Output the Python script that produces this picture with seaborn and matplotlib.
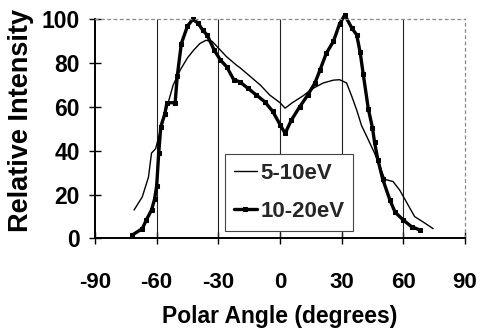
import matplotlib
matplotlib.use("Agg")
import matplotlib.pyplot as plt
import numpy as np
import pandas as pd
import seaborn as sns

# ---- data ----
angle_5_10 = [-71, -67, -64, -62.5, -60.5, -58, -55, -52, -48.5, -45, -42, -39, -36, -33,
              -31, -26, -21, -19.5, -14.5, -9.5, -5, 0, 2.5, 6, 11, 16, 21, 26, 29,
              32.4, 35, 37.3, 39.7, 42, 46, 51, 55, 58.3, 61, 65.5, 70.5, 74.5]
int_5_10 = [13, 19, 28, 39, 41, 50, 60, 70, 77, 82.5, 86, 89, 90.5, 90,
            88, 83, 79, 78, 74, 70, 65.5, 62, 59.5, 62, 65, 68.5, 71, 72.3, 72.5,
            71, 64.7, 58.7, 51.5, 47, 39, 27, 26, 22, 17.5, 10, 7, 4.5]

angle_10_20 = [-72, -67, -65, -62.5, -61, -60, -59, -58, -56, -55, -51, -50, -48, -45,
               -42.5, -40, -37.5, -35.5, -32, -29, -26, -22.5, -19.5, -15.5, -11.5,
               -7.5, -3.5, 0, 2.5, 5.5, 9.5, 13.5, 17, 19.5, 22.5, 26, 29, 31.5, 35,
               37.3, 39, 40.5, 43, 45, 46, 47.6, 50, 53.5, 56, 60, 64, 68]
int_10_20 = [1.5, 4.5, 8.5, 13, 18, 24, 39, 51, 57, 62, 62, 74, 89, 97,
             100, 98.5, 95, 93, 86, 81.5, 78.5, 72.5, 71.5, 68.5, 65.5,
             62.5, 58, 52, 48, 54, 60, 65.5, 71, 77, 84.5, 90, 98, 102, 96,
             93, 85, 75, 59, 50.5, 44, 36, 27, 17.5, 12, 8.4, 5.4, 3.9]

label_5_10 = "5-10eV"
label_10_20 = "10-20eV"
x_ticks = [-90, -60, -30, 0, 30, 60, 90]
y_ticks = [0, 20, 40, 60, 80, 100]
x_title = "Polar Angle (degrees)"
y_title = "Relative Intensity"

sns.set_theme(style="white")
plt.rcParams["font.family"] = ["Liberation Sans", "DejaVu Sans"]
plt.rcParams["font.weight"] = "bold"

fig = plt.figure(figsize=(4.82, 3.29), dpi=100)
ax = fig.add_axes([0.1971, 0.2751, 0.7676, 0.6657])

df_a = pd.DataFrame({"angle": angle_5_10, "intensity": int_5_10})
df_b = pd.DataFrame({"angle": angle_10_20, "intensity": int_10_20})

# vertical grid lines
ax.vlines(x_ticks[1:-1], 0, 100, colors="#222222", linewidth=0.8, zorder=1)

sns.lineplot(data=df_a, x="angle", y="intensity", ax=ax, color="black",
             linewidth=1.0, label=label_5_10, estimator=None, sort=False)
sns.lineplot(data=df_b, x="angle", y="intensity", ax=ax, color="black",
             linewidth=2.4, marker="s", markersize=3.5, markeredgecolor="black",
             markerfacecolor="black", label=label_10_20, estimator=None, sort=False)
for ln in ax.lines:
    ln.set_clip_on(False)

ax.set_xlim(-90, 90)
ax.set_ylim(0, 100)
ax.set_xticks(x_ticks)
ax.set_yticks(y_ticks)
ax.set_xticklabels([str(t) for t in x_ticks], fontweight="bold")
ax.set_yticklabels([str(t) for t in y_ticks], fontweight="bold")

ax.tick_params(axis="x", direction="inout", length=8, width=1, pad=20,
               labelsize=16, colors="black", bottom=True)
ax.tick_params(axis="y", direction="inout", length=8, width=1, pad=7,
               labelsize=16.5, colors="black", left=True)

ax.set_xlabel(x_title, fontsize=16.5, labelpad=8.5, color="black", fontweight="bold")
ax.set_ylabel(y_title, fontsize=19.5, color="black", fontweight="bold")
ax.yaxis.set_label_coords(-0.165, 0.54)

for s in ["left", "bottom"]:
    ax.spines[s].set_color("black")
    ax.spines[s].set_linewidth(1.4)
for s in ["top", "right"]:
    ax.spines[s].set_color("#888888")
    ax.spines[s].set_linewidth(0.9)
    ax.spines[s].set_linestyle((0, (2, 3)))

leg = ax.legend(loc="upper left", bbox_to_anchor=(0.351, 0.385),
                prop={"size": 16, "weight": "bold"},
                frameon=True, fancybox=False, edgecolor="#444444", framealpha=1,
                handlelength=1.05, handletextpad=0.15, borderpad=0.4,
                labelspacing=0.75, borderaxespad=0)
leg.get_frame().set_linewidth(0.8)

fig.savefig("out.png", dpi=100)
